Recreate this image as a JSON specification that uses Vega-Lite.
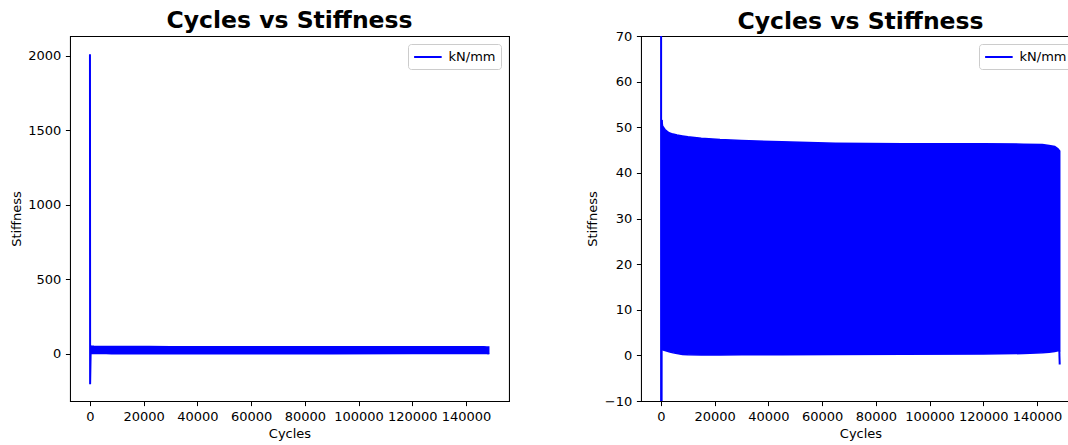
{
  "$schema": "https://vega.github.io/schema/vega-lite/v6.json",
  "padding": {"left": 9, "top": 8, "right": 0, "bottom": 0},
  "background": "#ffffff",
  "datasets": {
    "band": [
      {"cycles": 300, "upper": 51.6, "lower": 1.3},
      {"cycles": 600, "upper": 50.3, "lower": 1.2},
      {"cycles": 1500, "upper": 49.5, "lower": 1.05},
      {"cycles": 3000, "upper": 48.8, "lower": 0.8},
      {"cycles": 4500, "upper": 48.5, "lower": 0.55},
      {"cycles": 6000, "upper": 48.3, "lower": 0.4},
      {"cycles": 8000, "upper": 48.1, "lower": 0.2},
      {"cycles": 10000, "upper": 47.9, "lower": 0.15},
      {"cycles": 15000, "upper": 47.6, "lower": 0.1},
      {"cycles": 22000, "upper": 47.3, "lower": 0.1},
      {"cycles": 30000, "upper": 47.1, "lower": 0.15},
      {"cycles": 45000, "upper": 46.8, "lower": 0.15},
      {"cycles": 65000, "upper": 46.5, "lower": 0.2},
      {"cycles": 90000, "upper": 46.4, "lower": 0.25},
      {"cycles": 120000, "upper": 46.4, "lower": 0.3},
      {"cycles": 135000, "upper": 46.3, "lower": 0.4},
      {"cycles": 142000, "upper": 46.2, "lower": 0.55},
      {"cycles": 144500, "upper": 46.0, "lower": 0.7},
      {"cycles": 146600, "upper": 45.8, "lower": 0.85},
      {"cycles": 147800, "upper": 45.3, "lower": 1.0},
      {"cycles": 148450, "upper": 44.8, "lower": 1.0}
    ],
    "spike": [
      {"cycles": 0, "stiffness": 2011, "seg": "start", "series": "kN/mm"},
      {"cycles": 60, "stiffness": -206, "seg": "start", "series": "kN/mm"},
      {"cycles": 300, "stiffness": 51.6, "seg": "start", "series": "kN/mm"},
      {"cycles": 148300, "stiffness": 1.0, "seg": "end", "series": "kN/mm"},
      {"cycles": 148450, "stiffness": -2.0, "seg": "end", "series": "kN/mm"}
    ]
  },
  "hconcat": [
    {
      "width": 439,
      "height": 365,
      "title": {"text": "Cycles vs Stiffness", "offset": 3.7},
      "layer": [
        {
          "data": {"name": "band"},
          "mark": {"type": "area", "color": "#0000ff", "stroke": "#0000ff", "strokeWidth": 1.5, "clip": true},
          "encoding": {
            "x": {"field": "cycles", "type": "quantitative", "title": "Cycles",
                  "scale": {"domain": [-7430, 156000], "nice": false, "zero": false},
                  "axis": {"values": [0, 20000, 40000, 60000, 80000, 100000, 120000, 140000], "format": "d"}},
            "y": {"field": "upper", "type": "quantitative", "title": "Stiffness",
                  "scale": {"domain": [-318, 2134], "nice": false, "zero": false},
                  "axis": {"values": [0, 500, 1000, 1500, 2000], "format": "d"}},
            "y2": {"field": "lower"}
          }
        },
        {
          "data": {"name": "spike"},
          "mark": {"type": "line", "strokeWidth": 2, "clip": true},
          "encoding": {
            "x": {"field": "cycles", "type": "quantitative"},
            "y": {"field": "stiffness", "type": "quantitative"},
            "detail": {"field": "seg"},
            "color": {"field": "series", "type": "nominal", "scale": {"range": ["#0000ff"]}, "legend": {"title": null, "orient": "top-right", "offset": 8}}
          }
        }
      ]
    },
    {
      "width": 439,
      "height": 365,
      "title": {"text": "Cycles vs Stiffness", "offset": -3.3},
      "layer": [
        {
          "data": {"name": "band"},
          "mark": {"type": "area", "color": "#0000ff", "stroke": "#0000ff", "strokeWidth": 1.5, "clip": true},
          "encoding": {
            "x": {"field": "cycles", "type": "quantitative", "title": "Cycles",
                  "scale": {"domain": [-7430, 156000], "nice": false, "zero": false},
                  "axis": {"values": [0, 20000, 40000, 60000, 80000, 100000, 120000, 140000], "format": "d"}},
            "y": {"field": "upper", "type": "quantitative", "title": "Stiffness",
                  "scale": {"domain": [-10, 70], "nice": false, "zero": false},
                  "axis": {"values": [-10, 0, 10, 20, 30, 40, 50, 60, 70], "format": "d"}},
            "y2": {"field": "lower"}
          }
        },
        {
          "data": {"name": "spike"},
          "mark": {"type": "line", "strokeWidth": 2, "clip": true},
          "encoding": {
            "x": {"field": "cycles", "type": "quantitative"},
            "y": {"field": "stiffness", "type": "quantitative"},
            "detail": {"field": "seg"},
            "color": {"field": "series", "type": "nominal", "scale": {"range": ["#0000ff"]}, "legend": {"title": null, "orient": "top-right", "offset": 8}}
          }
        }
      ]
    }
  ],
  "spacing": 76,
  "resolve": {"scale": {"color": "independent"}, "legend": {"color": "independent"}},
  "config": {
    "view": {"stroke": "#000000", "strokeWidth": 1.05},
    "axis": {
      "domain": false,
      "grid": false,
      "ticks": true,
      "tickColor": "#000000",
      "tickSize": 4.6,
      "tickWidth": 1.05,
      "labelFont": "DejaVu Sans",
      "labelFontSize": 13,
      "labelColor": "#000000",
      "labelPadding": 4.6,
      "titleFont": "DejaVu Sans",
      "titleFontSize": 13,
      "titleFontWeight": "normal",
      "titleColor": "#000000"
    },
    "axisX": {"titlePadding": 4},
    "axisY": {"titlePadding": 4.5},
    "title": {"font": "DejaVu Sans", "fontSize": 23.5, "fontWeight": "bold", "color": "#000000", "anchor": "middle", "baseline": "alphabetic"},
    "legend": {
      "strokeColor": "#cccccc",
      "fillColor": "#ffffff",
      "cornerRadius": 3,
      "padding": 5,
      "symbolType": "M-1,0H3",
      "symbolSize": 190,
      "symbolStrokeWidth": 2,
      "labelFont": "DejaVu Sans",
      "labelFontSize": 13,
      "labelColor": "#000000",
      "labelOffset": 19.5
    }
  }
}
